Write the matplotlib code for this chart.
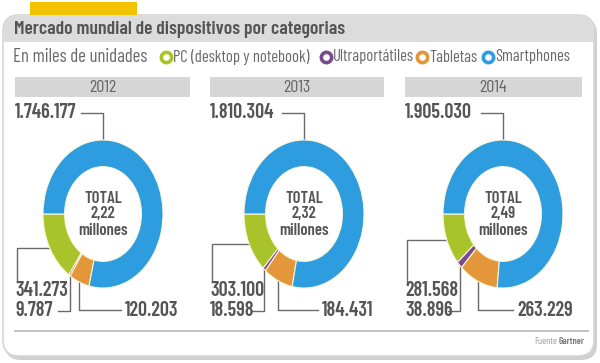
import matplotlib
matplotlib.use("Agg")
import matplotlib.pyplot as plt
import numpy as np
from matplotlib.patches import FancyBboxPatch, Rectangle

plt.rcParams['font.family'] = ['Barlow Condensed', 'DejaVu Sans']

# data (miles de unidades)
years = ['2012', '2013', '2014']
categories = ['PC (desktop y notebook)', 'Ultraportátiles', 'Tabletas', 'Smartphones']
pc = [341273, 303100, 281568]
ultra = [9787, 18598, 38896]
tabletas = [120203, 184431, 263229]
smartphones = [1746177, 1810304, 1905030]

colors = ['#a8c42a', '#7b4a8e', '#e3963a', '#2d9de0']
txt = '#555555'
line_c = '#6a6a6a'

W, H = 600, 363
fig = plt.figure(figsize=(W / 100, H / 100), dpi=100)
bg = fig.add_axes([0, 0, 1, 1])
bg.set_xlim(0, W)
bg.set_ylim(H, 0)
bg.axis('off')


def fmt(v):
    return f"{v:,}".replace(',', '.')


# panel + shadow
shadow = FancyBboxPatch((5, 18), 592, 342, boxstyle="round,pad=0,rounding_size=16",
                        fc='#d0d0d0', ec='none', zorder=0)
bg.add_patch(shadow)
panel = FancyBboxPatch((3, 15), 591, 341, boxstyle="round,pad=0,rounding_size=16",
                       fc='white', ec='#d6d6d6', lw=1.2, zorder=1)
bg.add_patch(panel)
header = Rectangle((0, 15), W, 27, fc='#dcdcdc', ec='none', zorder=2)
header.set_clip_path(panel)
bg.add_patch(header)
bg.add_patch(Rectangle((30, 2), 107, 13, fc='#f4c300', ec='none', zorder=3))

bg.text(14, 30, 'Mercado mundial de dispositivos por categorias', fontsize=14,
        fontweight='semibold', color=txt, va='center', ha='left', zorder=4)

# legend row
bg.text(13, 57, 'En miles de unidades', fontsize=13.5, color='#6a6a6a', va='center', zorder=4)
leg_ring_x = [166, 326, 422, 488]
for cat, col, rx in zip(categories, colors, leg_ring_x):
    bg.scatter([rx], [57], s=55, facecolor='white', edgecolor=col, linewidths=2.6, zorder=5)
    bg.text(rx + 7, 57, cat, fontsize=12, color='#6a6a6a', va='center', ha='left', zorder=4)

# year bars
bar_x = [(15, 190), (210, 384), (405, 582)]
for (x0, x1), yr in zip(bar_x, years):
    bg.add_patch(Rectangle((x0, 77), x1 - x0, 20, fc='#d6d6d6', ec='none', zorder=3))
    bg.text((x0 + x1) / 2, 87.5, yr, fontsize=13, color='#666666', ha='center', va='center', zorder=4)

# donuts
centers_x = [103, 304, 503]
cy, rx, ry = 214, 60, 74
tab_label_x = [125, 322, 517]
for i, yr in enumerate(years):
    vals = [pc[i], ultra[i], tabletas[i], smartphones[i]]
    cx = centers_x[i]
    ax = fig.add_axes([(cx - rx) / W, 1 - (cy + ry) / H, 2 * rx / W, 2 * ry / H])
    ax.pie(vals, colors=colors, startangle=180, counterclock=True, radius=1,
           wedgeprops=dict(width=0.36, edgecolor='#fbf6d8', linewidth=0.8))
    ax.set_aspect('auto')
    ax.set_xlim(-1, 1)
    ax.set_ylim(-1, 1)
    ax.axis('off')

    total = sum(vals)
    ckw = dict(ha='center', va='center', fontsize=12, fontweight='semibold', color=txt)
    ax.text(0, 0.21, 'TOTAL', **ckw)
    ax.text(0, 0.0, f"{total / 1e6:.2f}".replace('.', ','), **ckw)
    ax.text(0, -0.22, 'millones', **ckw)

    # wedge mid angles
    fr = np.array(vals) / total
    start = 180 + 360 * np.concatenate([[0], np.cumsum(fr)[:-1]])
    mid = np.radians(start + 180 * fr)
    px = cx + rx * np.cos(mid)
    py = cy - ry * np.sin(mid)

    lx = bar_x[i][0]
    num_kw = dict(fontsize=14.5, fontweight='semibold', color=txt, va='center', ha='left', zorder=4)
    # smartphones label (top)
    bg.text(lx, 113, fmt(smartphones[i]), **num_kw)
    bg.plot([cx - 22, cx, cx], [113, 113, cy - ry], color=line_c, lw=1, zorder=3)
    # PC label
    bg.text(lx, 291, fmt(pc[i]), **num_kw)
    bg.plot([lx + 2, lx + 2, px[0]], [282, py[0], py[0]], color=line_c, lw=1, zorder=3)
    # ultra label
    bg.text(lx, 311, fmt(ultra[i]), **num_kw)
    bg.plot([px[1] - 12, px[1], px[1]], [311, 311, py[1]], color=line_c, lw=1, zorder=3)
    # tabletas label
    tx = tab_label_x[i]
    bg.text(tx, 310, fmt(tabletas[i]), **num_kw)
    bg.plot([px[2], px[2], tx - 4], [py[2], 310, 310], color=line_c, lw=1, zorder=3)

# bottom rule + source
bg.plot([15, 588], [331, 331], color='#bdbdbd', lw=1.3, zorder=3)
bg.text(557, 342, 'Fuente', fontsize=7, color='#9a9a9a', ha='right', va='center', zorder=4)
bg.text(585, 342, 'Gartner', fontsize=7, fontweight='semibold', color='#777777', ha='right', va='center', zorder=4)

fig.savefig('out.png', dpi=100)
